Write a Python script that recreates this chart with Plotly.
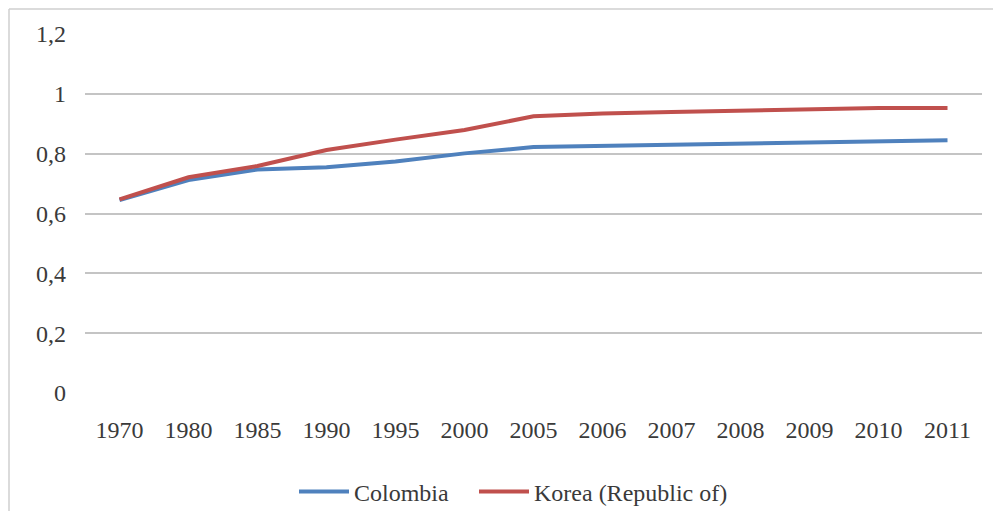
import plotly.graph_objects as go

years = ["1970", "1980", "1985", "1990", "1995", "2000", "2005",
         "2006", "2007", "2008", "2009", "2010", "2011"]
colombia = [0.645, 0.712, 0.747, 0.755, 0.774, 0.801, 0.822,
            0.826, 0.831, 0.834, 0.840, 0.841, 0.845]
korea = [0.647, 0.721, 0.759, 0.812, 0.847, 0.879, 0.925,
         0.934, 0.939, 0.944, 0.949, 0.953, 0.953]
y_ticks = [0, 0.2, 0.4, 0.6, 0.8, 1.0, 1.2]

FONT = "Liberation Serif"
TXT = "#3a3a3a"
FS = 24

fig = go.Figure()
fig.add_trace(go.Scatter(x=years, y=colombia, mode="lines", name="Colombia",
                         line=dict(color="#4F81BD", width=4), legend="legend"))
fig.add_trace(go.Scatter(x=years, y=korea, mode="lines", name="Korea (Republic of)",
                         line=dict(color="#C0504D", width=4), legend="legend2"))

# page body has an 8px margin, so the figure is sized to the visible area
OFF = 8
W, H = 1001 - OFF, 511 - OFF
L, R, T, B = 85 - OFF, 1001 - 982, 34 - OFF, 511 - 393
pw, ph = W - L - R, H - T - B

def px_x(p):
    return (p - OFF - L) / pw

def px_y(p):
    return (H - B - (p - OFF)) / ph

leg_common = dict(orientation="h", xanchor="left", yref="container",
                  y=(H - (492 - OFF)) / H, yanchor="middle",
                  font=dict(family=FONT, size=FS, color=TXT), itemwidth=50,
                  bgcolor="rgba(0,0,0,0)")

fig.update_layout(
    width=W, height=H,
    margin=dict(l=L, r=R, t=T, b=B, pad=0, autoexpand=False),
    paper_bgcolor="white", plot_bgcolor="white",
    separators=", ",
    font=dict(family=FONT, size=FS, color=TXT),
    showlegend=True,
    legend=dict(x=px_x(294), **leg_common),
    legend2=dict(x=px_x(474), **leg_common),
    xaxis=dict(type="category", range=[-0.5, 12.5], showgrid=False, zeroline=False,
               showline=False, ticks="", ticklabelstandoff=20, automargin=False,
               tickfont=dict(family=FONT, size=FS, color=TXT)),
    yaxis=dict(range=[0, 1.2], tickvals=y_ticks, showgrid=True, gridcolor="#c4c4c4",
               gridwidth=1.5, zeroline=False, showline=False, ticks="", automargin=False,
               ticklabelstandoff=18, tickfont=dict(family=FONT, size=FS, color=TXT)),
    shapes=[
        dict(type="line", xref="paper", yref="paper", x0=px_x(9), x1=px_x(1010),
             y0=px_y(9), y1=px_y(9), line=dict(color="#cfcfcf", width=1.5)),
        dict(type="line", xref="paper", yref="paper", x0=px_x(9), x1=px_x(9),
             y0=px_y(9), y1=px_y(520), line=dict(color="#cfcfcf", width=1.5)),
    ],
)

fig.write_html("out.html")
